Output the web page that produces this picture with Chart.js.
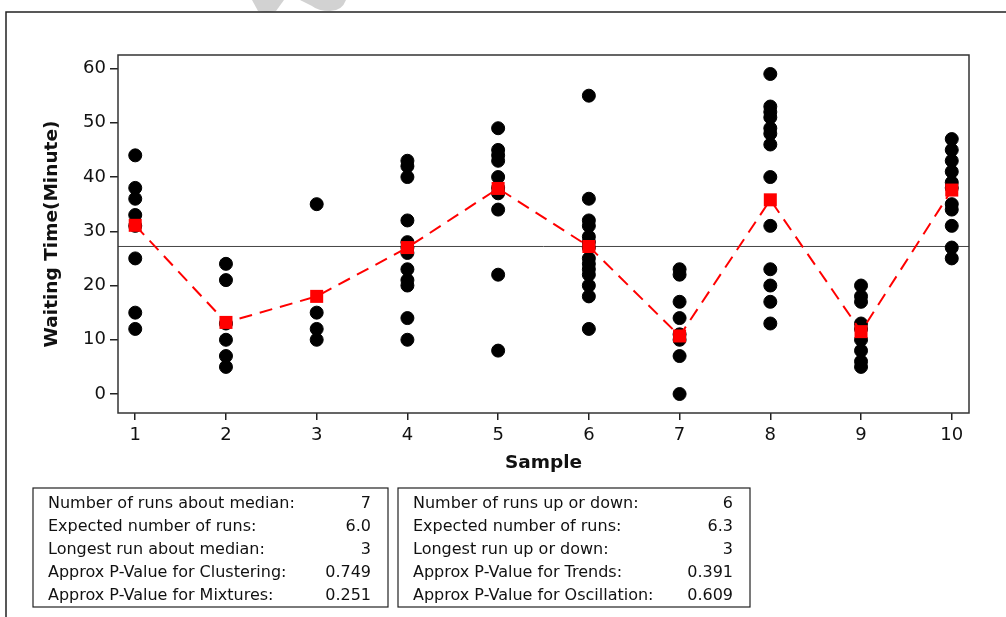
<!DOCTYPE html>
<html>
<head>
<meta charset="utf-8">
<script src="https://cdn.jsdelivr.net/npm/chart.js@4.4.1/dist/chart.umd.min.js"></script>
<style>
  body { margin: 0; background: #fff; }
  canvas { display: block; }
</style>
</head>
<body>
<canvas id="runChart" width="1006" height="617"></canvas>
<script>
// data
const samples = [1, 2, 3, 4, 5, 6, 7, 8, 9, 10];
const waitTimes = [
  [44, 38, 36, 33, 31, 25, 15, 12],
  [24, 21, 13, 10, 7, 5],
  [35, 15, 12, 10],
  [43, 42, 40, 32, 28, 27, 26, 23, 21, 20, 14, 10],
  [49, 45, 44, 43, 40, 38, 37, 34, 22, 8],
  [55, 36, 32, 31, 29, 28, 27, 25, 24, 23, 22, 20, 18, 12],
  [23, 22, 17, 14, 11, 10, 7, 0],
  [59, 53, 52, 51, 49, 48, 46, 40, 31, 23, 20, 17, 13],
  [20, 18, 17, 13, 12, 10, 8, 6, 5],
  [47, 45, 43, 41, 39, 38, 35, 34, 31, 27, 25]
];
const sampleMeans = [31.1, 13.2, 18.0, 27.0, 37.9, 27.2, 10.7, 35.8, 11.5, 37.6];
const medianValue = 27.2;
const yTickValues = [0, 10, 20, 30, 40, 50, 60];

const medianStatsLabels = ['Number of runs about median:', 'Expected number of runs:', 'Longest run about median:', 'Approx P-Value for Clustering:', 'Approx P-Value for Mixtures:'];
const medianStatsValues = ['7', '6.0', '3', '0.749', '0.251'];
const trendStatsLabels = ['Number of runs up or down:', 'Expected number of runs:', 'Longest run up or down:', 'Approx P-Value for Trends:', 'Approx P-Value for Oscillation:'];
const trendStatsValues = ['6', '6.3', '3', '0.391', '0.609'];

const FONT = '"DejaVu Sans", Verdana, sans-serif';

const points = samples.flatMap((s, i) => waitTimes[i].map(v => ({ x: s, y: v })));
const meanPoints = samples.map((s, i) => ({ x: s, y: sampleMeans[i] }));

// draws frame, median line and the two stats boxes
const decorations = {
  id: 'decorations',
  beforeDraw(chart) {
    const ctx = chart.ctx;
    ctx.save();
    ctx.fillStyle = '#fff';
    ctx.fillRect(0, 0, chart.width, chart.height);
    // faint watermark at the top
    ctx.fillStyle = '#d2d2d2';
    ctx.beginPath();
    ctx.moveTo(252, 0); ctx.lineTo(284, 0); ctx.lineTo(276, 11); ctx.quadraticCurveTo(266, 13, 258, 11);
    ctx.closePath(); ctx.fill();
    ctx.beginPath();
    ctx.moveTo(300, 0); ctx.lineTo(346, 0); ctx.quadraticCurveTo(342, 11, 330, 11); ctx.quadraticCurveTo(318, 11, 312, 6);
    ctx.closePath(); ctx.fill();
    // outer border
    ctx.strokeStyle = '#222';
    ctx.lineWidth = 1.5;
    ctx.beginPath();
    ctx.moveTo(1006, 12);
    ctx.lineTo(6, 12);
    ctx.lineTo(6, 617);
    ctx.stroke();
    ctx.restore();
  },
  beforeDatasetsDraw(chart) {
    const { ctx, chartArea, scales } = chart;
    const y = scales.y.getPixelForValue(medianValue);
    ctx.save();
    ctx.strokeStyle = '#444';
    ctx.lineWidth = 1;
    ctx.beginPath();
    ctx.moveTo(chartArea.left, y);
    ctx.lineTo(chartArea.right, y);
    ctx.stroke();
    ctx.restore();
  },
  afterDraw(chart) {
    const { ctx, chartArea } = chart;
    ctx.save();
    ctx.strokeStyle = '#333';
    ctx.lineWidth = 1.5;
    ctx.strokeRect(chartArea.left, chartArea.top, chartArea.right - chartArea.left, chartArea.bottom - chartArea.top);

    const drawBox = (x0, x1, labels, values) => {
      ctx.strokeStyle = '#222';
      ctx.lineWidth = 1.2;
      ctx.strokeRect(x0, 488, x1 - x0, 119);
      ctx.fillStyle = '#111';
      ctx.font = '16px ' + FONT;
      ctx.textBaseline = 'middle';
      labels.forEach((lab, i) => {
        const y = 504 + i * 23;
        ctx.textAlign = 'left';
        ctx.fillText(lab, x0 + 15, y);
        ctx.textAlign = 'right';
        ctx.fillText(values[i], x1 - 17, y);
      });
    };
    drawBox(33, 388, medianStatsLabels, medianStatsValues);
    drawBox(398, 750, trendStatsLabels, trendStatsValues);
    ctx.restore();
  }
};

new Chart(document.getElementById('runChart'), {
  type: 'scatter',
  data: {
    datasets: [
      {
        label: 'Waiting Time',
        data: points,
        order: 2,
        backgroundColor: '#000',
        borderColor: '#000',
        pointRadius: 6.5,
        pointHoverRadius: 6.5
      },
      {
        label: 'Mean',
        data: meanPoints,
        order: 1,
        showLine: true,
        borderColor: '#f00',
        borderWidth: 2,
        borderDash: [13, 8],
        backgroundColor: '#f00',
        pointStyle: 'rect',
        pointRadius: 9.2,
        pointHoverRadius: 9.2,
        pointBorderWidth: 0
      }
    ]
  },
  options: {
    responsive: false,
    animation: false,
    events: [],
    layout: { padding: { left: 0, top: 55, right: 37, bottom: 137 } },
    plugins: {
      legend: { display: false },
      tooltip: { enabled: false }
    },
    scales: {
      x: {
        type: 'linear',
        min: 0.81,
        max: 10.19,
        afterBuildTicks: (scale) => { scale.ticks = samples.map(v => ({ value: v })); },
        afterFit: (scale) => { scale.height = 67; },
        grid: { drawOnChartArea: false, drawTicks: true, tickLength: 7, color: '#222', lineWidth: 1.5 },
        border: { display: false },
        ticks: { color: '#111', font: { family: FONT, size: 18 }, padding: 5, maxRotation: 0 },
        title: { display: true, text: 'Sample', color: '#111', font: { family: FONT, size: 18.5, weight: 'bold' }, padding: { top: 0, bottom: 6 } }
      },
      y: {
        min: -3.5,
        max: 62.5,
        afterBuildTicks: (scale) => { scale.ticks = yTickValues.map(v => ({ value: v })); },
        afterFit: (scale) => { scale.width = 118; },
        grid: { drawOnChartArea: false, drawTicks: true, tickLength: 8, color: '#222', lineWidth: 1.5 },
        border: { display: false },
        ticks: { color: '#111', font: { family: FONT, size: 18 }, padding: 4 },
        title: { display: true, text: 'Waiting Time(Minute)', color: '#111', font: { family: FONT, size: 18.5, weight: 'bold' }, padding: { top: 41, bottom: 0 } }
      }
    }
  },
  plugins: [decorations]
});
</script>
</body>
</html>
